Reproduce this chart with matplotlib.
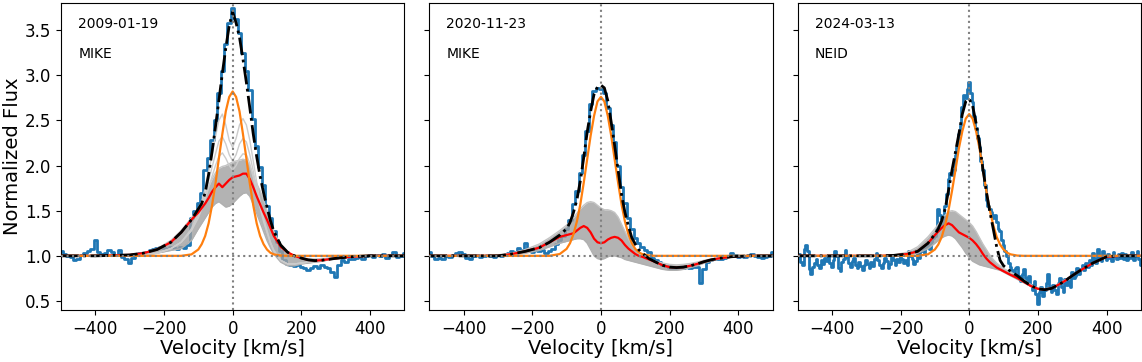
import numpy as np
import matplotlib
matplotlib.use("Agg")
import matplotlib.pyplot as plt

# knots (km/s) for the smooth model curves
v_model = [-500, -400, -300, -260, -220, -180, -150, -120,
           -100, -90, -80, -70, -60, -50, -40, -30, -20, -10,
           0,
           10, 20, 30, 40, 50, 60, 70, 80, 90, 100, 110, 120,
           140, 160, 180, 200, 220, 240, 260, 280, 300, 320, 340, 360, 380, 400,
           440, 500]
# observed spectra grids
v_obs = np.arange(-500, 501, 10)
v_obs3 = np.arange(-500, 501, 5)

dates = ["2009-01-19", "2020-11-23", "2024-03-13"]
instruments = ["MIKE", "MIKE", "NEID"]

# ---- 2009-01-19 ----
model1 = [1.0, 1.0, 1.01, 1.03, 1.07, 1.15, 1.26, 1.40,
          1.52, 1.58, 1.70, 1.90, 2.15, 2.43, 2.72, 3.02, 3.30, 3.55,
          3.70,
          3.58, 3.42, 3.18, 2.92, 2.64, 2.35, 2.10, 1.88, 1.70, 1.54, 1.39, 1.27,
          1.12, 1.04, 1.0, 0.975, 0.955, 0.947, 0.952, 0.962, 0.972, 0.98, 0.987, 0.993, 0.997, 1.0,
          1.0, 1.0]
broad1 = [1.0, 1.0, 1.01, 1.03, 1.07, 1.15, 1.26, 1.40,
          1.48, 1.53, 1.58, 1.64, 1.71, 1.76, 1.80, 1.76, 1.80, 1.84,
          1.87,
          1.88, 1.89, 1.91, 1.91, 1.85, 1.76, 1.66, 1.57, 1.48, 1.40, 1.31, 1.22,
          1.10, 1.04, 1.0, 0.975, 0.955, 0.947, 0.952, 0.962, 0.972, 0.98, 0.987, 0.993, 0.997, 1.0,
          1.0, 1.0]
narrow1 = [1.0, 1.0, 1.0, 1.0, 1.0, 1.0, 1.0, 1.016,
           1.07, 1.13, 1.22, 1.36, 1.56, 1.80, 2.08, 2.35, 2.60, 2.76,
           2.82,
           2.76, 2.60, 2.35, 2.08, 1.80, 1.56, 1.36, 1.22, 1.13, 1.07, 1.034, 1.016,
           1.003, 1.0, 1.0, 1.0, 1.0, 1.0, 1.0, 1.0, 1.0, 1.0, 1.0, 1.0, 1.0, 1.0,
           1.0, 1.0]
upper1 = [1.0, 1.0, 1.01, 1.03, 1.08, 1.17, 1.28, 1.42,
          1.53, 1.60, 1.68, 1.77, 1.85, 1.92, 1.97, 1.99, 2.00, 2.02,
          2.04,
          2.05, 2.06, 2.07, 2.06, 2.00, 1.88, 1.80, 1.72, 1.62, 1.50, 1.38, 1.27,
          1.12, 1.04, 1.0, 0.98, 0.97, 0.965, 0.97, 0.975, 0.98, 0.985, 0.99, 0.995, 1.0, 1.0,
          1.0, 1.0]
lower1 = [1.0, 1.0, 1.0, 1.01, 1.03, 1.06, 1.08, 1.17,
          1.30, 1.36, 1.42, 1.48, 1.54, 1.58, 1.60, 1.57, 1.54, 1.55,
          1.58,
          1.62, 1.66, 1.69, 1.70, 1.66, 1.57, 1.47, 1.37, 1.27, 1.17, 1.09, 1.02,
          0.93, 0.89, 0.89, 0.91, 0.92, 0.93, 0.94, 0.955, 0.965, 0.975, 0.985, 0.99, 0.995, 1.0,
          1.0, 1.0]
extra1 = [
    [1.0, 1.0, 1.0, 1.01, 1.03, 1.08, 1.15, 1.30,
     1.48, 1.60, 1.75, 1.93, 2.12, 2.32, 2.50, 2.57, 2.45, 2.28,
     2.20,
     2.30, 2.45, 2.52, 2.45, 2.28, 2.05, 1.82, 1.60, 1.42, 1.28, 1.15, 1.06,
     0.95, 0.91, 0.91, 0.92, 0.93, 0.94, 0.95, 0.96, 0.97, 0.98, 0.985, 0.99, 0.995, 1.0,
     1.0, 1.0],
    [1.0, 1.0, 1.0, 1.01, 1.03, 1.08, 1.15, 1.28,
     1.44, 1.55, 1.68, 1.83, 1.98, 2.13, 2.27, 2.32, 2.24, 2.12,
     2.05,
     2.12, 2.24, 2.30, 2.26, 2.12, 1.94, 1.74, 1.56, 1.40, 1.27, 1.15, 1.06,
     0.95, 0.91, 0.91, 0.92, 0.93, 0.94, 0.95, 0.96, 0.97, 0.98, 0.985, 0.99, 0.995, 1.0,
     1.0, 1.0],
    [1.0, 1.0, 1.0, 1.01, 1.03, 1.08, 1.15, 1.28,
     1.42, 1.52, 1.63, 1.75, 1.88, 2.00, 2.10, 2.14, 2.08, 2.00,
     1.95,
     2.00, 2.08, 2.13, 2.12, 2.02, 1.87, 1.70, 1.53, 1.38, 1.26, 1.14, 1.05,
     0.95, 0.91, 0.91, 0.92, 0.93, 0.94, 0.95, 0.96, 0.97, 0.98, 0.985, 0.99, 0.995, 1.0,
     1.0, 1.0],
]
obs1 = [1.05, 1.02, 1.00, 0.99, 0.95, 0.97, 1.01, 1.03, 1.05, 1.08,
        1.17, 1.04, 1.02, 1.03, 1.06, 1.04, 1.01, 1.07, 0.99, 0.96,
        0.92, 0.98, 1.01, 1.03, 1.02, 1.04, 1.06, 1.08, 1.09, 1.10,
        1.09, 1.08, 1.10, 1.09, 1.08, 1.10, 1.09, 1.12, 1.42, 1.50,
        1.58, 1.70, 1.95, 2.08, 2.28, 2.50, 2.80, 3.05, 3.35, 3.58,
        3.74, 3.62, 3.47, 3.25, 3.05, 2.84, 2.52, 2.22, 1.98, 1.78,
        1.55, 1.42, 1.28, 1.15, 1.05, 0.95, 0.91, 0.90, 0.89, 0.90,
        0.88, 0.86, 0.84, 0.87, 0.89, 0.86, 0.90, 0.88, 0.86, 0.82,
        0.77, 0.90, 0.95, 0.93, 0.97, 0.96, 0.98, 0.99, 0.97, 1.00,
        1.01, 0.99, 1.01, 1.00, 1.02, 0.98, 1.01, 1.04, 0.99, 1.00, 1.03]

# ---- 2020-11-23 ----
model2 = [1.0, 1.0, 1.0, 1.02, 1.05, 1.09, 1.15, 1.23,
          1.30, 1.37, 1.48, 1.62, 1.83, 2.09, 2.37, 2.60, 2.79, 2.87,
          2.89,
          2.86, 2.72, 2.48, 2.22, 1.95, 1.68, 1.48, 1.33, 1.20, 1.13, 1.07, 1.03,
          0.97, 0.93, 0.895, 0.875, 0.87, 0.875, 0.89, 0.91, 0.935, 0.955, 0.97, 0.98, 0.99, 0.995,
          1.0, 1.0]
broad2 = [1.0, 1.0, 1.0, 1.02, 1.05, 1.09, 1.15, 1.21,
          1.23, 1.24, 1.25, 1.28, 1.31, 1.33, 1.31, 1.26, 1.19, 1.15,
          1.14,
          1.15, 1.18, 1.20, 1.21, 1.20, 1.17, 1.12, 1.08, 1.05, 1.02, 1.0, 0.99,
          0.96, 0.93, 0.895, 0.875, 0.87, 0.875, 0.89, 0.91, 0.935, 0.955, 0.97, 0.98, 0.99, 0.995,
          1.0, 1.0]
narrow2 = [1.0, 1.0, 1.0, 1.0, 1.0, 1.0, 1.0, 1.02,
           1.077, 1.14, 1.24, 1.38, 1.57, 1.81, 2.07, 2.33, 2.55, 2.71,
           2.76,
           2.71, 2.55, 2.33, 2.07, 1.81, 1.57, 1.38, 1.24, 1.14, 1.077, 1.04, 1.02,
           1.004, 1.0, 1.0, 1.0, 1.0, 1.0, 1.0, 1.0, 1.0, 1.0, 1.0, 1.0, 1.0, 1.0,
           1.0, 1.0]
upper2 = [1.0, 1.0, 1.01, 1.03, 1.07, 1.13, 1.20, 1.28,
          1.34, 1.38, 1.42, 1.47, 1.52, 1.56, 1.59, 1.60, 1.59, 1.56,
          1.53,
          1.51, 1.51, 1.50, 1.48, 1.43, 1.35, 1.27, 1.19, 1.12, 1.07, 1.03, 1.0,
          0.97, 0.94, 0.92, 0.905, 0.9, 0.905, 0.915, 0.93, 0.95, 0.965, 0.975, 0.985, 0.99, 1.0,
          1.0, 1.0]
lower2 = [1.0, 1.0, 1.0, 1.01, 1.03, 1.06, 1.10, 1.14,
          1.16, 1.17, 1.18, 1.19, 1.19, 1.18, 1.14, 1.07, 1.0, 0.97,
          0.96,
          0.97, 0.99, 1.0, 1.0, 0.99, 0.98, 0.96, 0.95, 0.94, 0.93, 0.92, 0.91,
          0.89, 0.87, 0.85, 0.84, 0.84, 0.85, 0.87, 0.89, 0.92, 0.94, 0.96, 0.975, 0.985, 0.995,
          1.0, 1.0]
obs2 = [1.04, 1.00, 0.96, 0.98, 0.97, 1.00, 0.99, 1.01, 1.03, 1.04,
        1.02, 0.98, 0.97, 1.00, 1.01, 0.99, 1.00, 1.01, 1.00, 0.99,
        1.01, 1.00, 1.01, 1.03, 1.05, 1.04, 1.09, 1.07, 1.14, 1.06,
        1.04, 1.06, 1.05, 1.07, 1.03, 1.05, 1.08, 1.13, 1.18, 1.22,
        1.30, 1.40, 1.57, 1.72, 1.92, 2.12, 2.38, 2.68, 2.82, 2.86,
        2.85, 2.80, 2.64, 2.45, 2.26, 2.00, 1.76, 1.58, 1.42, 1.30,
        1.20, 1.14, 1.10, 1.07, 1.04, 0.98, 0.95, 0.93, 0.90, 0.89,
        0.86, 0.85, 0.87, 0.88, 0.87, 0.88, 0.87, 0.88, 0.88, 0.70,
        0.85, 0.93, 0.95, 0.96, 0.97, 0.97, 0.98, 1.00, 1.03, 1.01,
        0.99, 1.00, 0.99, 1.01, 1.02, 1.00, 0.99, 0.98, 0.99, 1.00, 1.04]

# ---- 2024-03-13 ----
model3 = [1.0, 1.0, 1.0, 1.0, 1.005, 1.02, 1.05, 1.14,
          1.24, 1.30, 1.39, 1.52, 1.73, 1.95, 2.15, 2.35, 2.57, 2.71,
          2.74,
          2.66, 2.47, 2.25, 1.96, 1.71, 1.49, 1.30, 1.10, 0.95, 0.89, 0.86, 0.83,
          0.78, 0.72, 0.67, 0.635, 0.625, 0.64, 0.68, 0.725, 0.78, 0.83, 0.875, 0.92, 0.955, 0.99,
          1.0, 1.0]
broad3 = [1.0, 1.0, 1.0, 1.0, 1.005, 1.02, 1.05, 1.14,
          1.23, 1.27, 1.31, 1.34, 1.36, 1.34, 1.30, 1.26, 1.24, 1.22,
          1.20,
          1.17, 1.13, 1.08, 1.02, 0.97, 0.93, 0.90, 0.87, 0.85, 0.83, 0.81, 0.79,
          0.755, 0.71, 0.665, 0.635, 0.625, 0.64, 0.68, 0.725, 0.78, 0.83, 0.875, 0.92, 0.955, 0.99,
          1.0, 1.0]
narrow3 = [1.0, 1.0, 1.0, 1.0, 1.0, 1.0, 1.0, 1.017,
           1.07, 1.125, 1.21, 1.34, 1.51, 1.72, 1.95, 2.19, 2.38, 2.52,
           2.57,
           2.52, 2.38, 2.19, 1.95, 1.72, 1.51, 1.34, 1.21, 1.125, 1.07, 1.036, 1.017,
           1.003, 1.0, 1.0, 1.0, 1.0, 1.0, 1.0, 1.0, 1.0, 1.0, 1.0, 1.0, 1.0, 1.0,
           1.0, 1.0]
upper3 = [1.0, 1.0, 1.0, 1.0, 1.01, 1.04, 1.10, 1.21,
          1.30, 1.35, 1.40, 1.45, 1.49, 1.50, 1.49, 1.46, 1.43, 1.40,
          1.37,
          1.33, 1.27, 1.20, 1.13, 1.07, 1.01, 0.96, 0.92, 0.89, 0.86, 0.84, 0.82,
          0.78, 0.73, 0.68, 0.645, 0.635, 0.65, 0.69, 0.735, 0.785, 0.835, 0.88, 0.925, 0.96, 0.99,
          1.0, 1.0]
lower3 = [1.0, 1.0, 1.0, 1.0, 1.0, 1.01, 1.03, 1.08,
          1.14, 1.17, 1.20, 1.22, 1.23, 1.22, 1.19, 1.14, 1.09, 1.03,
          0.98,
          0.94, 0.92, 0.90, 0.89, 0.88, 0.87, 0.86, 0.85, 0.84, 0.82, 0.80, 0.78,
          0.74, 0.70, 0.66, 0.63, 0.62, 0.635, 0.675, 0.72, 0.775, 0.825, 0.87, 0.915, 0.95, 0.985,
          1.0, 1.0]
# NEID spectrum, 5 km/s bins
obs3 = [0.98, 1.02, 0.93, 0.90, 1.08, 1.12, 1.05, 0.85, 0.80, 0.88,
        0.92, 0.97, 0.90, 0.86, 0.95, 0.91, 0.98, 0.94, 1.00, 0.92,
        0.88, 0.95, 1.05, 1.00, 0.87, 0.83, 0.93, 0.97, 1.06, 0.99,
        0.92, 0.88, 0.94, 0.98, 0.90, 0.86, 0.93, 0.89, 0.84, 0.90,
        0.95, 0.91, 0.87, 0.93, 0.89, 0.97, 1.03, 0.95, 0.90, 0.86,
        0.92, 0.98, 0.94, 0.87, 0.91, 0.99, 0.95, 0.90, 0.96, 0.93,
        1.02, 0.97, 0.92, 0.95, 0.90, 1.05, 1.00, 0.96, 0.91, 0.94,
        1.02, 0.98, 1.05, 1.08, 1.03, 1.10, 1.12, 1.08, 1.15, 1.20,
        1.22, 1.30, 1.52, 1.45, 1.35, 1.42, 1.55, 1.68, 1.85, 1.92,
        1.90, 1.95, 2.12, 2.20, 2.35, 2.45, 2.65, 2.78, 2.75, 2.85,
        2.92, 2.80, 2.70, 2.55, 2.42, 2.30, 2.20, 2.05, 1.95, 1.78,
        1.62, 1.55, 1.52, 1.48, 1.42, 1.45, 1.38, 1.30, 1.28, 1.18,
        1.12, 1.05, 1.00, 0.92, 0.88, 0.84, 0.80, 0.86, 0.88, 0.78,
        0.72, 0.80, 0.85, 0.75, 0.70, 0.78, 0.68, 0.62, 0.72, 0.58,
        0.47, 0.60, 0.65, 0.55, 0.62, 0.70, 0.80, 0.66, 0.60, 0.68,
        0.62, 0.58, 0.70, 0.75, 0.66, 0.60, 0.74, 0.68, 0.72, 0.65,
        0.82, 0.76, 0.78, 0.86, 0.80, 0.85, 0.90, 0.84, 0.92, 0.88,
        0.95, 0.90, 1.03, 0.96, 0.92, 1.08, 0.98, 0.94, 1.05, 1.00,
        0.95, 1.02, 0.98, 0.94, 1.04, 1.00, 0.96, 1.02, 0.98, 1.03,
        0.97, 1.02, 0.95, 1.00, 0.98, 1.04, 0.95, 1.00, 1.05, 0.96,
        0.90]

panels = [
    (v_obs, obs1, model1, broad1, narrow1, upper1, lower1, extra1),
    (v_obs, obs2, model2, broad2, narrow2, upper2, lower2, []),
    (v_obs3, obs3, model3, broad3, narrow3, upper3, lower3, []),
]

fig, axes = plt.subplots(1, 3, figsize=(11.42, 3.62), dpi=100, sharey=True)
fig.subplots_adjust(left=0.0534, right=0.999, bottom=0.1436, top=0.9917, wspace=0.0727)

for i, ax in enumerate(axes):
    vo, obs, model, broad, narrow, up, lo, extra = panels[i]
    ax.plot(vo, obs, color='#1f77b4', lw=2, drawstyle='steps-mid', zorder=1)
    ax.fill_between(v_model, lo, up, color='#a0a0a0', alpha=0.8, lw=0, zorder=2)
    ax.plot(v_model, up, color='#c4c4c4', lw=1, zorder=2)
    ax.plot(v_model, lo, color='#b0b0b0', lw=1, zorder=2)
    for g in extra:
        ax.plot(v_model, g, color='#cccccc', lw=1, zorder=2)
    ax.plot(v_model, broad, color='red', lw=1.6, zorder=3)
    ax.plot(v_model, narrow, color='#ff7f0e', lw=1.6, zorder=4)
    ax.plot(v_model, model, color='k', lw=2, ls='-.', zorder=5)
    ax.axhline(1.0, color='gray', ls=':', lw=1.5, zorder=6)
    ax.axvline(0.0, color='gray', ls=':', lw=1.5, zorder=6)

    ax.set_xlim(-500, 500)
    ax.set_ylim(0.4, 3.8)
    ax.set_xticks([-400, -200, 0, 200, 400])
    ax.set_yticks([0.5, 1.0, 1.5, 2.0, 2.5, 3.0, 3.5])
    ax.tick_params(labelsize=12)
    ax.set_xlabel('Velocity [km/s]', fontsize=14, labelpad=1)
    ax.text(0.05, 0.93, dates[i], transform=ax.transAxes, fontsize=10, va='center')
    ax.text(0.05, 0.835, instruments[i], transform=ax.transAxes, fontsize=10, va='center')

axes[0].set_ylabel('Normalized Flux', fontsize=14, labelpad=2)

plt.savefig('out.png', dpi=100)
